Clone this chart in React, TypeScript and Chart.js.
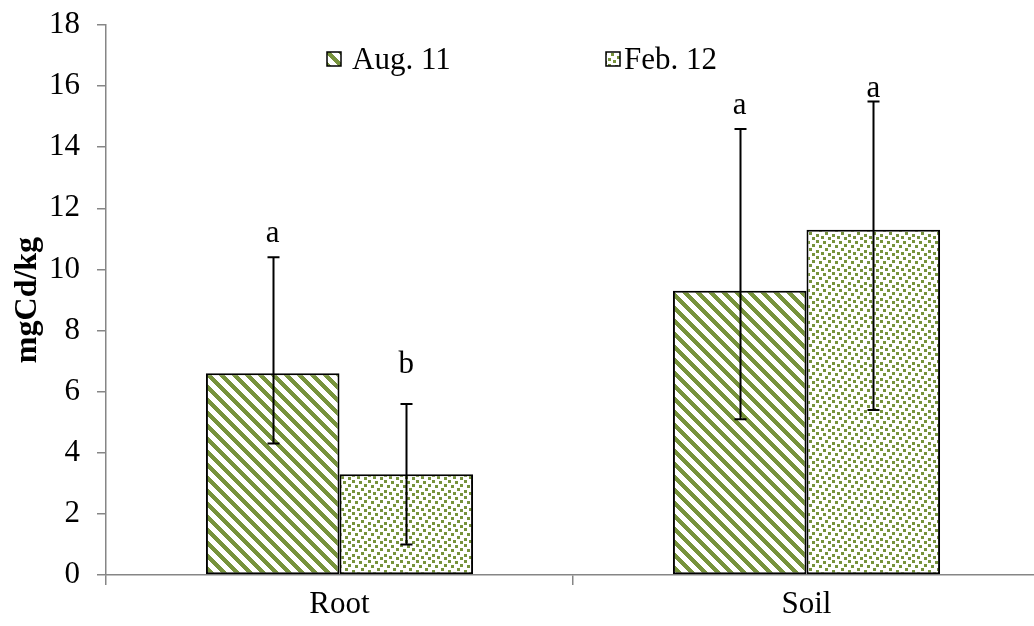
import React, { useEffect, useRef } from "react";
import { Chart, registerables } from "chart.js";

Chart.register(...registerables);

const categories = ["Root", "Soil"];
const seriesLabels = ["Aug. 11", "Feb. 12"];
const augValues = [6.6, 9.3];
const febValues = [3.3, 11.3];
const augErrHigh = [10.4, 14.6];
const augErrLow = [4.3, 5.1];
const febErrHigh = [5.6, 15.5];
const febErrLow = [1.0, 5.4];
const augLetters = ["a", "a"];
const febLetters = ["b", "a"];
const augLetterAt = [10.9, 15.1];
const febLetterAt = [6.6, 15.65];
const yTicks = [0, 2, 4, 6, 8, 10, 12, 14, 16, 18];

const GREEN = "#77933C";
const AXIS = "#868686";
const FONT = "'Liberation Serif', 'Times New Roman', serif";

function stripePattern(): CanvasPattern | string {
  const c = document.createElement("canvas");
  c.width = 13;
  c.height = 13;
  const g = c.getContext("2d");
  if (!g) return GREEN;
  g.fillStyle = "#fff";
  g.fillRect(0, 0, 13, 13);
  g.fillStyle = GREEN;
  for (let y = 0; y < 13; y++) {
    for (let x = 0; x < 13; x++) {
      if ((((x - y) % 13) + 13) % 13 < 6) g.fillRect(x, y, 1, 1);
    }
  }
  const p = g.createPattern(c, "repeat");
  return p || GREEN;
}

function confettiPattern(): CanvasPattern | string {
  const c = document.createElement("canvas");
  c.width = 16;
  c.height = 16;
  const g = c.getContext("2d");
  if (!g) return GREEN;
  g.fillStyle = "#fff";
  g.fillRect(0, 0, 16, 16);
  g.fillStyle = GREEN;
  const spots = [
    [0, 0],
    [7, 1],
    [12, 4],
    [3, 5],
    [9, 8],
    [0, 10],
    [5, 12],
    [12, 13],
  ];
  spots.forEach(([x, y]) => g.fillRect(x, y, 3, 3));
  const p = g.createPattern(c, "repeat");
  return p || GREEN;
}

export default function App() {
  const ref = useRef<HTMLCanvasElement | null>(null);

  useEffect(() => {
    const canvas = ref.current;
    if (!canvas) return;
    const stripes = stripePattern();
    const confetti = confettiPattern();
    const highs = [augErrHigh, febErrHigh];
    const lows = [augErrLow, febErrLow];
    const letters = [augLetters, febLetters];
    const letterAt = [augLetterAt, febLetterAt];
    const fills = [stripes, confetti];

    const overlay = {
      id: "overlay",
      afterDatasetsDraw(chart: any) {
        const ctx = chart.ctx as CanvasRenderingContext2D;
        const ys = chart.scales.y;
        ctx.save();
        for (let i = 0; i < 2; i++) {
          const meta = chart.getDatasetMeta(i);
          meta.data.forEach((bar: any, j: number) => {
            const x = Math.round(bar.x) + 0.5;
            const yh = ys.getPixelForValue(highs[i][j]);
            const yl = ys.getPixelForValue(lows[i][j]);
            ctx.strokeStyle = "#000";
            ctx.lineWidth = 2;
            ctx.beginPath();
            ctx.moveTo(x, yh);
            ctx.lineTo(x, yl);
            ctx.moveTo(x - 6, yh);
            ctx.lineTo(x + 6, yh);
            ctx.moveTo(x - 6, yl);
            ctx.lineTo(x + 6, yl);
            ctx.stroke();
            ctx.fillStyle = "#000";
            ctx.font = `31px ${FONT}`;
            ctx.textAlign = "center";
            ctx.textBaseline = "alphabetic";
            ctx.fillText(letters[i][j], bar.x, ys.getPixelForValue(letterAt[i][j]));
          });
        }
        ctx.restore();
      },
      afterDraw(chart: any) {
        const ctx = chart.ctx as CanvasRenderingContext2D;
        ctx.save();
        const items = [
          { x: 327, tx: 352, label: seriesLabels[0], fill: fills[0] },
          { x: 606, tx: 624, label: seriesLabels[1], fill: fills[1] },
        ];
        items.forEach((it) => {
          ctx.fillStyle = it.fill as any;
          ctx.fillRect(it.x, 52, 14, 14);
          ctx.strokeStyle = "#000";
          ctx.lineWidth = 1.5;
          ctx.strokeRect(it.x, 52, 14, 14);
          ctx.fillStyle = "#000";
          ctx.font = `31px ${FONT}`;
          ctx.textAlign = "left";
          ctx.textBaseline = "alphabetic";
          ctx.fillText(it.label, it.tx, 69);
        });
        ctx.restore();
      },
    };

    const chart = new Chart(canvas, {
      type: "bar",
      data: {
        labels: categories,
        datasets: [
          {
            label: seriesLabels[0],
            data: augValues,
            backgroundColor: stripes as any,
            borderColor: "#000",
            borderWidth: 2,
            borderSkipped: false,
            categoryPercentage: 0.572,
            barPercentage: 1,
          },
          {
            label: seriesLabels[1],
            data: febValues,
            backgroundColor: confetti as any,
            borderColor: "#000",
            borderWidth: 2,
            borderSkipped: false,
            categoryPercentage: 0.572,
            barPercentage: 1,
          },
        ],
      },
      options: {
        responsive: false,
        animation: false,
        devicePixelRatio: 1,
        layout: { padding: { top: 25, right: 10, left: 0, bottom: 0 } },
        plugins: {
          legend: { display: false },
          tooltip: { enabled: false },
        },
        scales: {
          x: {
            type: "category",
            offset: true,
            grid: {
              display: true,
              drawOnChartArea: false,
              drawTicks: true,
              tickLength: 10,
              color: AXIS,
              lineWidth: 1.5,
              offset: true,
            },
            border: { display: true, color: AXIS, width: 1.5 },
            ticks: { font: { family: FONT, size: 31 }, color: "#000", padding: 1 },
            afterFit(s: any) {
              s.height = 51;
              s.paddingLeft = 0;
              s.paddingRight = 0;
            },
          },
          y: {
            min: 0,
            max: 18,
            afterBuildTicks(s: any) {
              s.ticks = yTicks.map((v) => ({ value: v }));
            },
            grid: {
              drawOnChartArea: false,
              drawTicks: true,
              tickLength: 9,
              color: AXIS,
              lineWidth: 1.5,
            },
            border: { display: true, color: AXIS, width: 1.5 },
            ticks: { font: { family: FONT, size: 31 }, color: "#000", padding: 17 },
            title: {
              display: true,
              text: "mgCd/kg",
              font: { family: FONT, size: 32, weight: "bold" },
              color: "#000",
              padding: { top: 9, bottom: 0 },
            },
            afterFit(s: any) {
              s.width = 106;
              s.paddingTop = 0;
              s.paddingBottom = 0;
            },
          },
        },
      },
      plugins: [overlay],
    } as any);

    return () => chart.destroy();
  }, []);

  return (
    <div
      style={{
        position: "absolute",
        left: 0,
        top: 0,
        width: 1034,
        height: 626,
        overflow: "hidden",
        background: "#fff",
      }}
    >
      <canvas ref={ref} width={1050} height={626} style={{ width: 1050, height: 626, display: "block" }} />
    </div>
  );
}
